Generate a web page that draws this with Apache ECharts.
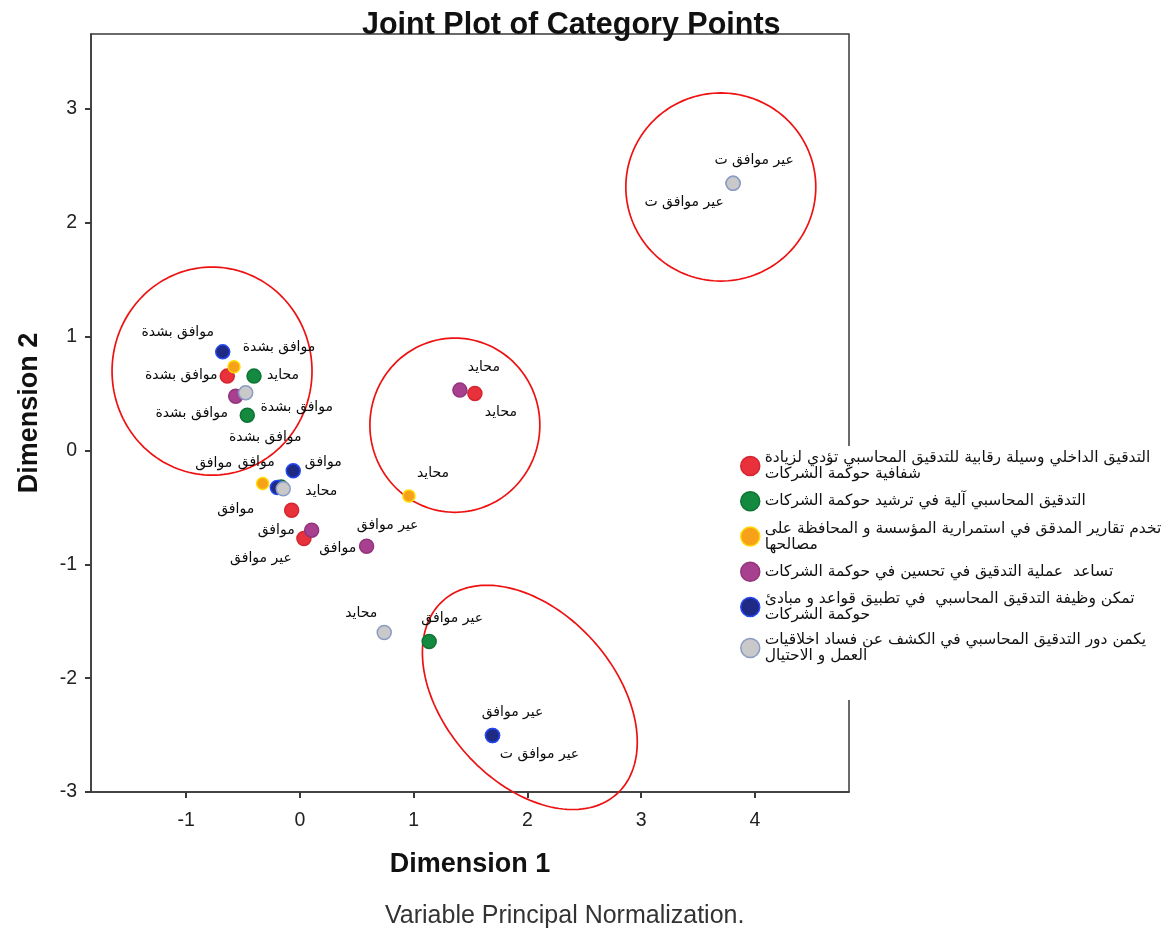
<!DOCTYPE html>
<html>
<head>
<meta charset="utf-8">
<script src="https://cdn.jsdelivr.net/npm/echarts@6/dist/echarts.min.js"></script>
<style>
  html, body { margin: 0; padding: 0; background: #ffffff; }
  #chart { width: 1174px; height: 933px; }
</style>
</head>
<body>
<div id="chart"></div>
<script>
// Axis ticks
const xTicks = [-1, 0, 1, 2, 3, 4];
const yTicks = [-3, -2, -1, 0, 1, 2, 3];

// Variables (legend entries)
const variableNames = [
  'التدقيق الداخلي وسيلة رقابية للتدقيق المحاسبي تؤدي لزيادة\nشفافية حوكمة الشركات',
  'التدقيق المحاسبي آلية في ترشيد حوكمة الشركات',
  'تخدم تقارير المدقق في استمرارية المؤسسة و المحافظة على\nمصالحها',
  'تساعد  عملية التدقيق في تحسين في حوكمة الشركات',
  'تمكن وظيفة التدقيق المحاسبي  في تطبيق قواعد و مبادئ\nحوكمة الشركات',
  'يكمن دور التدقيق المحاسبي في الكشف عن فساد اخلاقيات\nالعمل و الاحتيال'
];

// Category points of each variable: [Dimension 1, Dimension 2, category]
const pointsV1 = [
  [-0.639, 0.653, 'موافق بشدة'],
  [1.538, 0.501, 'محايد'],
  [-0.073, -0.525, 'موافق'],
  [0.035, -0.773, 'عير موافق']
];
const pointsV2 = [
  [-0.404, 0.653, 'محايد'],
  [-0.463, 0.310, 'موافق بشدة'],
  [-0.165, -0.322, 'موافق'],
  [1.136, -1.678, 'عير موافق']
];
const pointsV3 = [
  [-0.580, 0.735, 'موافق بشدة'],
  [-0.328, -0.290, 'موافق'],
  [0.958, -0.399, 'محايد']
];
const pointsV4 = [
  [-0.565, 0.477, 'موافق بشدة'],
  [1.406, 0.530, 'محايد'],
  [0.103, -0.700, 'موافق'],
  [0.586, -0.841, 'عير موافق']
];
const pointsV5 = [
  [-0.679, 0.866, 'موافق بشدة'],
  [-0.059, -0.179, 'موافق'],
  [-0.199, -0.325, 'محايد'],
  [1.693, -2.504, 'عير موافق'],
  [1.693, -2.504, 'عير موافق ت']
];
const pointsV6 = [
  [-0.477, 0.506, 'موافق بشدة'],
  [-0.147, -0.337, 'موافق'],
  [0.741, -1.599, 'محايد'],
  [3.808, 2.346, 'عير موافق ت'],
  [3.808, 2.346, 'عير موافق ت']
];

// Where each category label sits around its point (pixels)
const labelShiftV1 = [[-46, -1], [26, 19], [-56, -1], [-43, 20]];
const labelShiftV2 = [[29, -1], [18, 22], [-5, 43], [23, -23]];
const labelShiftV3 = [[45, -19], [-49, -20], [24, -23]];
const labelShiftV4 = [[-44, 17], [24, -23], [26, 18], [21, -21]];
const labelShiftV5 = [[-45, -20], [30, -8], [44, 4], [20, -23], [47, 19]];
const labelShiftV6 = [[51, 15], [-27, -26], [-23, -19], [21, -23], [-49, 19]];

// Grouping rings drawn around clusters: centre, semi-axes, tilt (deg)
const ringCentres = [[3.70, 2.314], [-0.773, 0.697], [1.362, 0.222], [2.021, -2.169]];
const ringAxes = [[0.835, 0.826], [0.879, 0.914], [0.747, 0.765], [1.142, 0.747]];
const ringTilt = [0, 0, 0, -48];

const seriesPoints = [pointsV1, pointsV2, pointsV3, pointsV4, pointsV5, pointsV6];
const seriesShifts = [labelShiftV1, labelShiftV2, labelShiftV3, labelShiftV4, labelShiftV5, labelShiftV6];

const styles = [
  { color: '#e8313b', borderColor: '#d42530', size: 14 },
  { color: '#138a3f', borderColor: '#0d7434', size: 14 },
  { color: '#f7a11a', borderColor: '#ffd800', size: 12 },
  { color: '#a7418f', borderColor: '#93357d', size: 14 },
  { color: '#1f2a85', borderColor: '#2448f2', size: 14 },
  { color: '#c9c9c9', borderColor: '#8a9bc4', size: 14 }
];

const FRAME = '#3a3a3a';

const scatterSeries = seriesPoints.map((pts, i) => ({
  type: 'scatter',
  name: variableNames[i],
  symbol: 'circle',
  symbolSize: styles[i].size,
  z: 3,
  itemStyle: { color: styles[i].color, borderColor: styles[i].borderColor, borderWidth: 1.5, opacity: 1 },
  label: {
    show: true,
    position: 'inside',
    align: 'center',
    verticalAlign: 'middle',
    color: '#0a0a0a',
    fontSize: 14,
    fontFamily: 'DejaVu Sans',
    formatter: p => p.name
  },
  labelLayout: function (params) {
    const s = seriesShifts[i][params.dataIndex];
    return { dx: s[0], dy: s[1], hideOverlap: false, moveOverlap: null };
  },
  emphasis: { disabled: true },
  data: pts.map(p => ({ value: [p[0], p[1]], name: p[2] }))
}));

const ringSeries = {
  type: 'custom',
  name: 'rings',
  z: 2,
  silent: true,
  clip: false,
  data: ringCentres.map(c => c.slice()),
  renderItem: function (params, api) {
    const k = params.dataIndex;
    const c = ringCentres[k];
    const a = ringAxes[k][0];
    const b = ringAxes[k][1];
    const phi = ringTilt[k] * Math.PI / 180;
    const ux = Math.cos(phi), uy = Math.sin(phi);
    const vx = -Math.sin(phi), vy = Math.cos(phi);
    const pts = [];
    for (let t = 0; t < 160; t++) {
      const th = t / 160 * Math.PI * 2;
      const ca = a * Math.cos(th), sb = b * Math.sin(th);
      pts.push(api.coord([c[0] + ca * ux + sb * vx, c[1] + ca * uy + sb * vy]));
    }
    return {
      type: 'polygon',
      shape: { points: pts },
      style: { fill: 'none', stroke: '#ee1111', lineWidth: 1.7 }
    };
  }
};

const chart = echarts.init(document.getElementById('chart'), null, { renderer: 'canvas' });
chart.setOption({
  animation: false,
  backgroundColor: '#ffffff',
  title: {
    text: 'Joint Plot of Category Points',
    left: 357,
    top: 5,
    textStyle: { fontFamily: 'Liberation Sans', fontWeight: 'bold', fontSize: 30.5, color: '#111' }
  },
  grid: {
    left: 91, right: 325, top: 34, bottom: 141,
    show: true, borderColor: FRAME, borderWidth: 1.5, backgroundColor: 'transparent'
  },
  legend: {
    orient: 'vertical',
    left: 736,
    top: 446,
    padding: [4, 4, 36, 4],
    backgroundColor: '#ffffff',
    itemWidth: 19,
    itemHeight: 19,
    itemGap: 9,
    icon: 'circle',
    selectedMode: false,
    textStyle: { fontFamily: 'DejaVu Sans', fontSize: 15.5, lineHeight: 16, color: '#111', padding: [0, 0, 0, 0] },
    data: variableNames.map((n, i) => ({
      name: n,
      itemStyle: { color: styles[i].color, borderColor: styles[i].borderColor, borderWidth: 1.5 }
    }))
  },
  xAxis: {
    type: 'value',
    min: -1.837,
    max: 4.827,
    name: 'Dimension 1',
    nameLocation: 'middle',
    nameGap: 59,
    nameTextStyle: { fontFamily: 'Liberation Sans', fontWeight: 'bold', fontSize: 27, color: '#111' },
    splitLine: { show: false },
    axisLine: { onZero: false, lineStyle: { color: FRAME, width: 1.5 } },
    axisTick: { show: true, customValues: xTicks, length: 6, lineStyle: { color: FRAME, width: 2 } },
    axisLabel: { customValues: xTicks, fontFamily: 'Liberation Sans', fontSize: 19.5, color: '#222', margin: 19 }
  },
  yAxis: {
    type: 'value',
    min: -3,
    max: 3.658,
    name: 'Dimension 2',
    nameLocation: 'middle',
    nameRotate: 90,
    nameGap: 48,
    nameTextStyle: { fontFamily: 'Liberation Sans', fontWeight: 'bold', fontSize: 27, color: '#111' },
    splitLine: { show: false },
    axisLine: { onZero: false, lineStyle: { color: FRAME, width: 1.5 } },
    axisTick: { show: true, customValues: yTicks, length: 6, lineStyle: { color: FRAME, width: 2 } },
    axisLabel: { customValues: yTicks, fontFamily: 'Liberation Sans', fontSize: 19.5, color: '#222', margin: 14 }
  },
  graphic: [{
    type: 'text',
    left: 385,
    top: 904,
    style: {
      text: 'Variable Principal Normalization.',
      font: '25px "Liberation Sans"',
      fill: '#333'
    }
  }],
  series: [ringSeries].concat(scatterSeries)
});
</script>
</body>
</html>
